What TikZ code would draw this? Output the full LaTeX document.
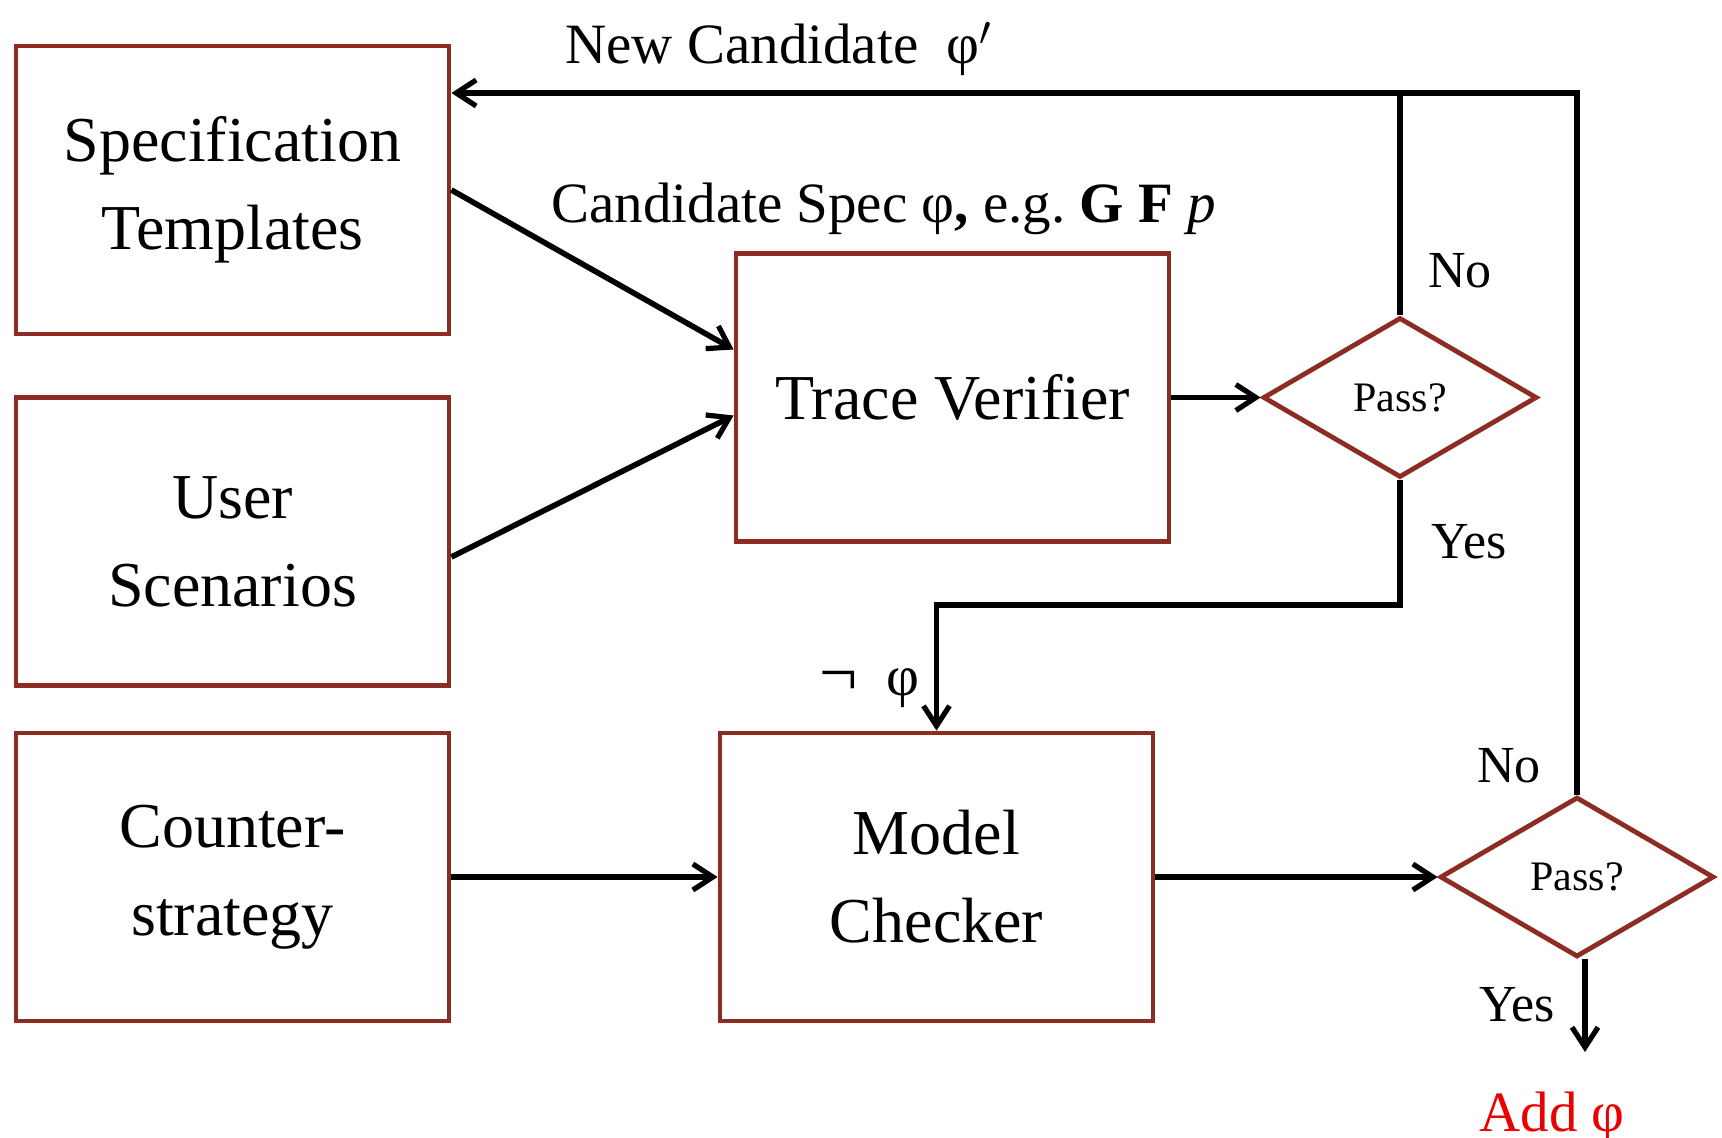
\documentclass[tikz,border=0pt]{standalone}
\usepackage{fontspec}
\setmainfont{Liberation Serif}
\usetikzlibrary{shapes.geometric,arrows.meta,calc}
\definecolor{boxred}{RGB}{140,44,34}
\definecolor{addred}{RGB}{235,0,0}
\begin{document}
\begin{tikzpicture}[x=0.5pt,y=-0.5pt,
  block/.style={draw=boxred,line width=2.4pt,rectangle,align=center,
    minimum width=216.5pt,minimum height=144pt,inner sep=0pt,
    font=\fontsize{32}{44}\selectfont},
  decide/.style={draw=boxred,line width=2.4pt,diamond,inner sep=0pt,
    minimum width=137pt,minimum height=80pt,
    font=\fontsize{21}{25}\selectfont},
  flow/.style={line width=2.8pt,-{Straight Barb[length=10pt,width=13pt,line width=2.6pt]}},
  wire/.style={line width=2.8pt},
  lbl/.style={inner sep=0pt,font=\fontsize{28.5}{32}\selectfont},
  yn/.style={inner sep=0pt,font=\fontsize{26}{30}\selectfont}]
\useasboundingbox (0,0) rectangle (1722,1138);

% input boxes on the left
\node[block] (spec)    at (232.5,190)   {Specification\\Templates};
\node[block] (user)    at (232.5,541.5) {User\\Scenarios};
\node[block] (counter) at (232.5,877)   {Counter-\\strategy};

% the two checking stages
\node[block] (tv) at (952.5,397.5) {Trace Verifier};
\node[block] (mc) at (936.5,877)   {Model\\Checker};

% decisions
\node[decide] (d1) at (1400,397.5) {Pass?};
\node[decide] (d2) at (1577,877)   {Pass?};

% inputs into the trace verifier
\draw[flow] (spec.east) -- ($(tv.west)+(0,-48)$);
\draw[flow] ($(user.east)+(0,15.5)$) -- ($(tv.west)+(0,18)$);
\draw[flow] (tv.east) -- (d1.west);

% trace verifier passes: negated spec goes to the model checker
\coordinate (yesbend) at (1400,605);
\draw[flow] (d1.south) -- (yesbend) -- (mc.north |- yesbend) -- (mc.north);

\draw[flow] (counter.east) -- (mc.west);
\draw[flow] (mc.east) -- (d2.west);

% feedback loop: a new candidate goes back to the templates
\coordinate (loop) at (1577,93);
\draw[flow] (d2.north) -- (loop) -- (spec.east |- loop);
\draw[wire] (d1.north) -- (d1.north |- loop);

% model checker passes: the spec is added
\coordinate (addtip) at (1585,1052);
\draw[flow] ($(d2.south)+(8,0)$) -- (addtip);

% labels
\node[lbl,anchor=base west] (newcand) at (565,64) {New Candidate \ φ$'$};
\node[lbl,anchor=base west] (candspec) at (551,223) {Candidate Spec φ\textbf{,} e.g.\ \textbf{G F} \textit{p}};
\node[lbl,anchor=base west] (neg) at (819,695) {{\fontsize{34}{34}\selectfont ¬}\ \ φ};
\node[yn,anchor=base west] (no1)  at (1428,288)  {No};
\node[yn,anchor=base west] (yes1) at (1431,558)  {Yes};
\node[yn,anchor=base west] (no2)  at (1477,782)  {No};
\node[yn,anchor=base west] (yes2) at (1479,1021) {Yes};
\node[lbl,anchor=base west,text=addred] (add) at (1479,1131) {Add φ};
\end{tikzpicture}
\end{document}
